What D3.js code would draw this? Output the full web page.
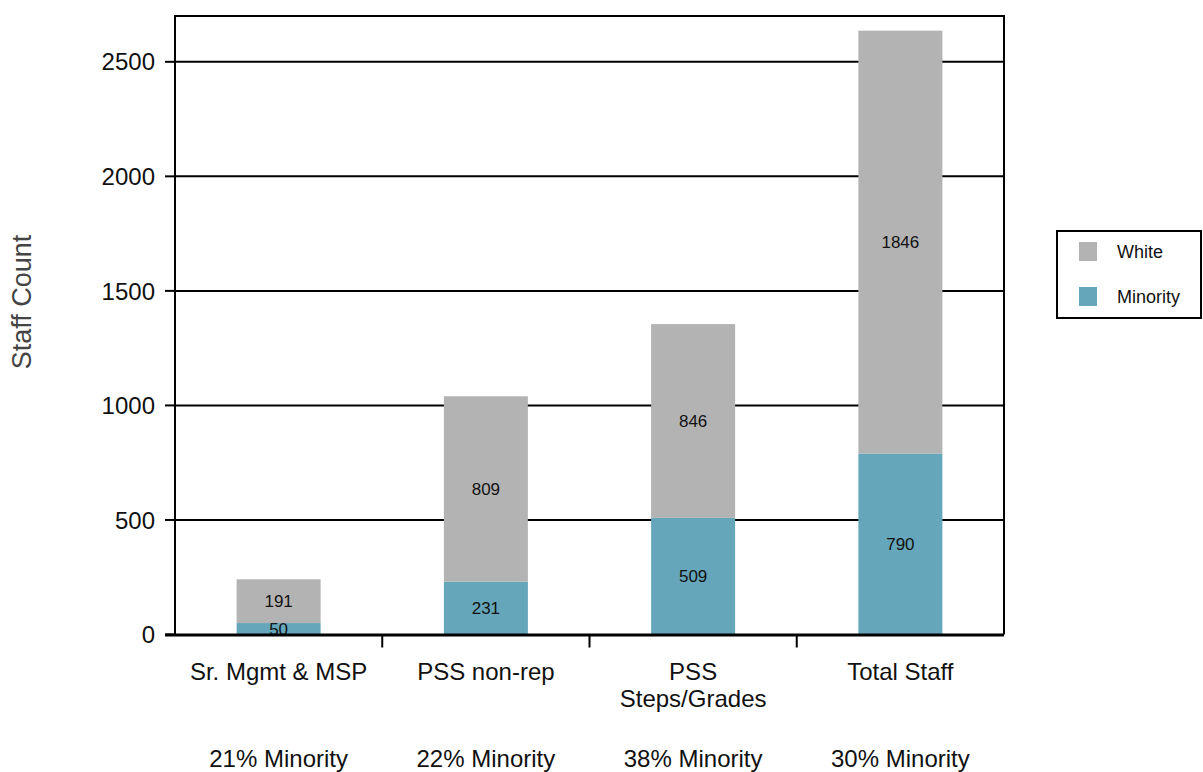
<!DOCTYPE html>
<html>
<head>
<meta charset="utf-8">
<script src="https://cdn.jsdelivr.net/npm/d3@7"></script>
<style>
  html, body { margin: 0; padding: 0; background: #fff; }
  svg { display: block; font-family: "Liberation Sans", Arial, Helvetica, sans-serif; }
</style>
</head>
<body>
<svg id="chart" width="1203" height="772"></svg>
<script>
// Staff counts by group, split into minority and white staff
const categories = ["Sr. Mgmt & MSP", "PSS non-rep", "PSS\nSteps/Grades", "Total Staff"];
const minority = [50, 231, 509, 790];
const white = [191, 809, 846, 1846];
const minorityShare = ["21% Minority", "22% Minority", "38% Minority", "30% Minority"];
const yTicks = [0, 500, 1000, 1500, 2000, 2500];
const seriesNames = ["White", "Minority"];

const colors = { White: "#b3b3b3", Minority: "#65a6ba" };

const svg = d3.select("#chart");
const plot = { left: 175, right: 1004, top: 16, bottom: 634.5 };

const x = d3.scaleBand()
  .domain(categories)
  .range([plot.left, plot.right]);

const y = d3.scaleLinear()
  .domain([0, 2700])
  .range([plot.bottom, plot.top]);

const barWidth = 84;

// Gridlines
svg.append("g")
  .selectAll("line")
  .data(yTicks.filter(d => d > 0))
  .join("line")
  .attr("x1", plot.left)
  .attr("x2", plot.right)
  .attr("y1", d => y(d))
  .attr("y2", d => y(d))
  .attr("stroke", "#000")
  .attr("stroke-width", 2);

// Stacked bars
const rows = categories.map((c, i) => ({ cat: c, Minority: minority[i], White: white[i] }));
const stack = d3.stack().keys(["Minority", "White"])(rows);

const layers = svg.append("g")
  .selectAll("g")
  .data(stack)
  .join("g")
  .attr("fill", d => colors[d.key]);

layers.selectAll("rect")
  .data(d => d)
  .join("rect")
  .attr("x", d => x(d.data.cat) + x.bandwidth() / 2 - barWidth / 2)
  .attr("width", barWidth)
  .attr("y", d => y(d[1]))
  .attr("height", d => y(d[0]) - y(d[1]));

// Segment value labels
layers.selectAll("text")
  .data(d => d.map(s => ({ s, key: d.key })))
  .join("text")
  .attr("x", d => x(d.s.data.cat) + x.bandwidth() / 2)
  .attr("y", d => (y(d.s[0]) + y(d.s[1])) / 2)
  .attr("dy", "0.36em")
  .attr("text-anchor", "middle")
  .attr("font-size", 17)
  .attr("fill", "#111")
  .text(d => d.s.data[d.key]);

// Frame: left, top, right
svg.append("path")
  .attr("d", `M${plot.left},${plot.bottom}V${plot.top}H${plot.right}V${plot.bottom}`)
  .attr("fill", "none")
  .attr("stroke", "#000")
  .attr("stroke-width", 2);

// Y axis ticks and labels
const yAxis = svg.append("g");
yAxis.selectAll("line")
  .data(yTicks)
  .join("line")
  .attr("x1", plot.left - 10)
  .attr("x2", plot.left)
  .attr("y1", d => y(d))
  .attr("y2", d => y(d))
  .attr("stroke", "#000")
  .attr("stroke-width", 2);
yAxis.selectAll("text")
  .data(yTicks)
  .join("text")
  .attr("x", plot.left - 20)
  .attr("y", d => y(d))
  .attr("dy", "0.36em")
  .attr("text-anchor", "end")
  .attr("font-size", 24)
  .attr("fill", "#111")
  .text(d => d);

// Bottom axis line
svg.append("line")
  .attr("x1", plot.left - 10)
  .attr("x2", plot.right)
  .attr("y1", plot.bottom + 0.5)
  .attr("y2", plot.bottom + 0.5)
  .attr("stroke", "#000")
  .attr("stroke-width", 3);

// Category separators
svg.append("g")
  .selectAll("line")
  .data(categories.slice(1))
  .join("line")
  .attr("x1", d => x(d))
  .attr("x2", d => x(d))
  .attr("y1", plot.bottom)
  .attr("y2", plot.bottom + 13)
  .attr("stroke", "#000")
  .attr("stroke-width", 2);

// Category labels (may span two lines)
const catLabels = svg.append("g")
  .selectAll("text")
  .data(categories)
  .join("text")
  .attr("text-anchor", "middle")
  .attr("font-size", 24)
  .attr("fill", "#111");
catLabels.selectAll("tspan")
  .data(d => d.split("\n").map(line => ({ line, cat: d })))
  .join("tspan")
  .attr("x", d => x(d.cat) + x.bandwidth() / 2)
  .attr("y", (d, i) => 680 + i * 27)
  .text(d => d.line);

// Minority share under each group
svg.append("g")
  .selectAll("text")
  .data(minorityShare)
  .join("text")
  .attr("x", (d, i) => x(categories[i]) + x.bandwidth() / 2)
  .attr("y", 767)
  .attr("text-anchor", "middle")
  .attr("font-size", 24)
  .attr("fill", "#111")
  .text(d => d);

// Y axis title
svg.append("text")
  .attr("transform", "translate(31,302) rotate(-90)")
  .attr("text-anchor", "middle")
  .attr("font-size", 27)
  .attr("fill", "#444")
  .text("Staff Count");

// Legend
const legend = svg.append("g");
legend.append("rect")
  .attr("x", 1057)
  .attr("y", 231)
  .attr("width", 144)
  .attr("height", 87)
  .attr("fill", "#fff")
  .attr("stroke", "#000")
  .attr("stroke-width", 2);
const items = legend.selectAll("g.item")
  .data(seriesNames)
  .join("g")
  .attr("class", "item")
  .attr("transform", (d, i) => `translate(1079,${242 + i * 45})`);
items.append("rect")
  .attr("width", 18)
  .attr("height", 19)
  .attr("fill", d => colors[d]);
items.append("text")
  .attr("x", 38)
  .attr("y", 9.5)
  .attr("dy", "0.36em")
  .attr("font-size", 18)
  .attr("fill", "#111")
  .text(d => d);
</script>
</body>
</html>
